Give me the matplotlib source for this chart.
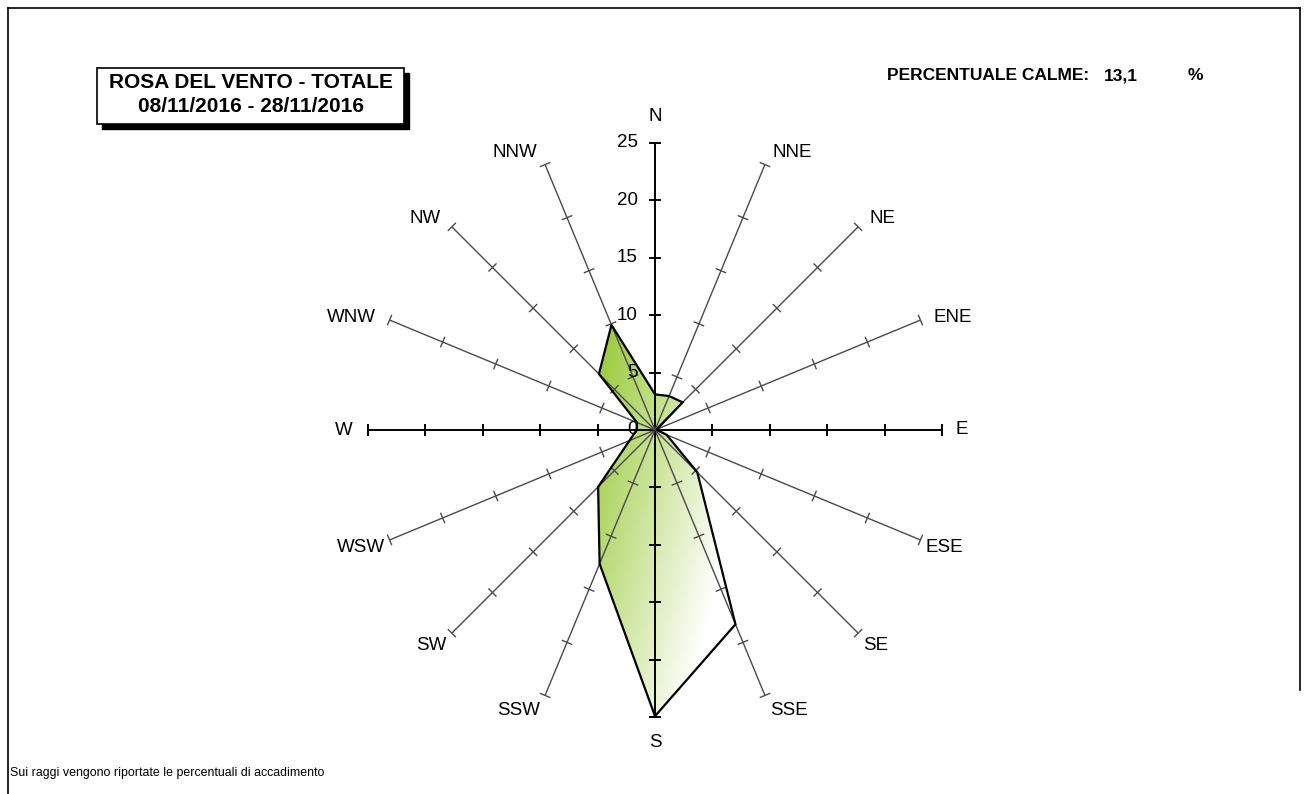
import numpy as np
import matplotlib
matplotlib.use("Agg")
import matplotlib.pyplot as plt
from matplotlib.patches import Polygon, Rectangle
from matplotlib.lines import Line2D

# ---------------- data ----------------
directions = ["N", "NNE", "NE", "ENE", "E", "ESE", "SE", "SSE",
              "S", "SSW", "SW", "WSW", "W", "WNW", "NW", "NNW"]
frequencies = [3.1, 3.2, 3.4, 0.2, 0.2, 1.1, 5.2, 18.3,
               24.9, 12.6, 7.0, 2.4, 1.6, 1.7, 6.9, 9.9]
radial_ticks = [0, 5, 10, 15, 20, 25]
title_lines = ["ROSA DEL VENTO - TOTALE", "08/11/2016 - 28/11/2016"]
calm_label = "PERCENTUALE CALME:"
calm_value = "13,1"
footnote = "Sui raggi vengono riportate le percentuali di accadimento"

# ---------------- figure ----------------
W, H, DPI = 1308, 794, 100
fig = plt.figure(figsize=(W / DPI, H / DPI), dpi=DPI)
plt.rcParams['font.family'] = ['Liberation Sans', 'DejaVu Sans']

cx, cy = 655.0, 430.0          # rose centre (pixels)
rmax_px = 287.3
s = rmax_px / radial_ticks[-1]  # pixels per unit

ax = fig.add_axes([0, 0, 1, 1])
ax.set_xlim(-cx / s, (W - cx) / s)
ax.set_ylim(-(H - cy) / s, cy / s)
ax.axis("off")

rmax = radial_ticks[-1]
angles = np.deg2rad(np.arange(len(directions)) * 22.5)

# polygon with gradient fill
xs = np.array(frequencies) * np.sin(angles)
ys = np.array(frequencies) * np.cos(angles)
poly = Polygon(np.column_stack([xs, ys]), closed=True, facecolor="none",
               edgecolor="black", linewidth=1.6, zorder=4)
xmin, xmax, ymin, ymax = xs.min(), xs.max(), ys.min(), ys.max()
n = 300
u = np.linspace(0, 1, n)[None, :]
v = np.linspace(0, 1, n)[:, None]       # v=0 top
t = np.clip((0.6 * u + 0.4 * v) / 0.78, 0, 1)
green = np.array([150, 200, 50]) / 255.0
white = np.array([1.0, 1.0, 1.0])
img = green[None, None, :] * (1 - t[..., None]) + white[None, None, :] * t[..., None]
im = ax.imshow(img, extent=[xmin, xmax, ymin, ymax], origin="upper",
               zorder=1, aspect="auto", interpolation="bilinear")
clip = Polygon(np.column_stack([xs, ys]), closed=True, transform=ax.transData)
im.set_clip_path(clip)
ax.add_patch(poly)

# rays with ticks
tick_half = 5.0 / s
for i, a in enumerate(angles):
    dx, dy = np.sin(a), np.cos(a)
    main = (i % 4 == 0)
    col = "black" if main else "#4a4a4a"
    lw = 1.4 if main else 1.0
    ax.plot([0, rmax * dx], [0, rmax * dy], color=col, lw=lw, zorder=3,
            solid_capstyle="butt")
    px, py = -dy, dx
    for r in radial_ticks[1:]:
        bx, by = r * dx, r * dy
        ax.plot([bx - tick_half * px, bx + tick_half * px],
                [by - tick_half * py, by + tick_half * py],
                color=col, lw=lw, zorder=3)

FS = 13.5
# radial tick labels on N axis
for r in radial_ticks:
    ax.text(-17.0 / s, r, str(r), ha="right", va="center",
            fontsize=FS, zorder=5)

# direction labels
for i, (a, name) in enumerate(zip(angles, directions)):
    dx, dy = np.sin(a), np.cos(a)
    ex, ey = rmax * dx, rmax * dy
    if name == "N":
        ax.text(ex, ey + 26 / s, name, ha="center", va="center", fontsize=FS)
    elif name == "S":
        ax.text(ex, ey - 25 / s, name, ha="center", va="center", fontsize=FS)
    elif name == "E":
        ax.text(ex + 13 / s, ey, name, ha="left", va="center", fontsize=FS)
    elif name == "W":
        ax.text(ex - 15 / s, ey, name, ha="right", va="center", fontsize=FS)
    else:
        if dy > 0:
            ox = 4 + 10 * abs(dx)
            oy = 18.5 * dy - 5          # pixels upward
        else:
            ox = 5
            oy = -(2 + 14 * abs(dy))
        if dx > 0:
            ax.text(ex + ox / s, ey + oy / s, name, ha="left", va="center", fontsize=FS)
        else:
            ax.text(ex - ox / s, ey + oy / s, name, ha="right", va="center", fontsize=FS)

# ---------------- annotations (figure pixel coords) ----------------
def fx(x):
    return x / W

def fy(y):
    return 1 - y / H

# title box with shadow
bx0, by0, bx1, by1 = 97, 68, 404, 124
fig.patches.append(Rectangle((fx(bx0 + 5), fy(by1 + 5)), (bx1 - bx0) / W, (by1 - by0) / H,
                             transform=fig.transFigure, facecolor="black",
                             edgecolor="black", zorder=1))
fig.patches.append(Rectangle((fx(bx0), fy(by1)), (bx1 - bx0) / W, (by1 - by0) / H,
                             transform=fig.transFigure, facecolor="white",
                             edgecolor="black", lw=1.2, zorder=2))
fig.text(fx((bx0 + bx1) / 2), fy(83), title_lines[0], ha="center", va="center",
         fontsize=15, fontweight="bold", zorder=3)
fig.text(fx((bx0 + bx1) / 2), fy(106), title_lines[1], ha="center", va="center",
         fontsize=15, fontweight="bold", zorder=3)

fig.text(fx(887), fy(75), calm_label, ha="left", va="center", fontsize=12.5,
         fontweight="bold")
fig.text(fx(1104), fy(76), calm_value, ha="left", va="center", fontsize=12.5,
         fontweight="bold")
fig.text(fx(1188), fy(76), "%", ha="left", va="center", fontsize=12.5,
         fontweight="bold")

fig.text(fx(10), fy(773), footnote, ha="left", va="center", fontsize=8.9)

# frame lines
fig.lines.append(Line2D([fx(8), fx(8)], [fy(8), fy(794)], transform=fig.transFigure,
                        color="black", lw=1.2))
fig.lines.append(Line2D([fx(8), fx(1300)], [fy(8), fy(8)], transform=fig.transFigure,
                        color="black", lw=1.2))
fig.lines.append(Line2D([fx(1300), fx(1300)], [fy(8), fy(690)], transform=fig.transFigure,
                        color="black", lw=1.2))

fig.savefig("out.png", dpi=DPI)
